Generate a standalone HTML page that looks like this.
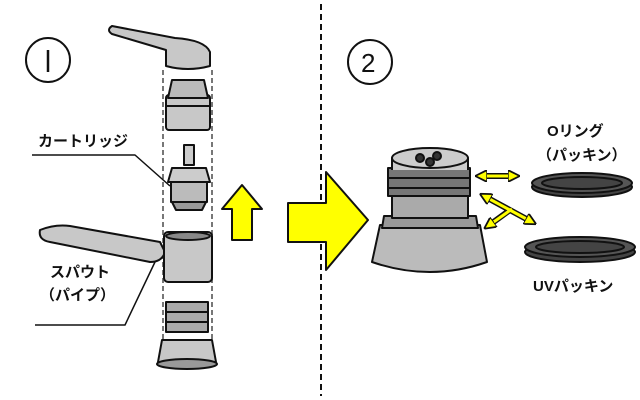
<!DOCTYPE html><html><head><meta charset="utf-8"><style>body{margin:0;background:#fff}svg{display:block}text{font-family:"Liberation Sans","Noto Sans CJK JP",sans-serif;font-weight:bold;fill:#111}</style></head><body>
<svg width="640" height="400" viewBox="0 0 640 400" stroke="#111" stroke-width="2" stroke-linejoin="round">
<defs><marker id="h" viewBox="0 0 10 10" refX="6" refY="5" markerWidth="4" markerHeight="4" orient="auto-start-reverse"><path d="M0,0 L10,5 L0,10Z" fill="#ffff00" stroke="#111" stroke-width="1.5"/></marker></defs>
<line x1="321" y1="4" x2="321" y2="396" stroke-dasharray="6,4"/>
<circle cx="48" cy="60" r="22" fill="#fff"/><line x1="48" y1="50" x2="48" y2="72" stroke-width="2.5"/>
<circle cx="370" cy="62" r="22" fill="#fff"/><text x="361" y="72" font-size="26" style="font-weight:normal" stroke="none">2</text>
<line x1="163" y1="70" x2="163" y2="360" stroke="#777" stroke-dasharray="5,3"/>
<line x1="212" y1="70" x2="212" y2="360" stroke="#777" stroke-dasharray="5,3"/>
<path d="M112,26 L175,38 Q205,40 210,52 L210,66 Q188,72 166,66 L166,50 L112,34 Q106,30 112,26Z" fill="#c8c8c8"/>
<rect x="166" y="95" width="44" height="35" rx="3" fill="#c8c8c8"/>
<path d="M172,80 L204,80 L208,98 L168,98Z" fill="#bbb"/>
<line x1="166" y1="106" x2="210" y2="106"/>
<rect x="184" y="145" width="10" height="20" fill="#ccc"/>
<path d="M172,168 L206,168 L210,182 L168,182Z" fill="#ccc"/>
<rect x="171" y="182" width="36" height="20" fill="#bbb"/>
<path d="M172,202 L206,202 L202,210 L176,210Z" fill="#999"/>
<path d="M40,230 Q38,240 50,242 L150,262 Q162,262 165,252 L160,242 L70,226 Q55,224 40,230Z" fill="#c8c8c8"/>
<rect x="164" y="232" width="48" height="50" rx="4" fill="#c8c8c8"/>
<ellipse cx="188" cy="236" rx="22" ry="4" fill="#888"/>
<rect x="166" y="302" width="42" height="30" fill="#aaa"/>
<line x1="166" y1="312" x2="208" y2="312"/><line x1="166" y1="322" x2="208" y2="322"/>
<path d="M162,340 L212,340 L216,362 L158,362Z" fill="#c8c8c8"/>
<ellipse cx="187" cy="364" rx="30" ry="5" fill="#999"/>
<text x="38" y="146" font-size="15" stroke="none">カートリッジ</text>
<polyline points="32,155 135,155 170,186" fill="none" stroke-width="1.5"/>
<text x="50" y="277" font-size="15" stroke="none">スパウト</text>
<text x="40" y="300" font-size="15" stroke="none">（パイプ）</text>
<polyline points="35,325 125,325 155,262" fill="none" stroke-width="1.5"/>
<path d="M242,185 L262,209 L252,209 L252,240 L232,240 L232,209 L222,209Z" fill="#ffff00"/>
<path d="M288,203 L326,203 L326,172 L368,220 L326,270 L326,242 L288,242Z" fill="#ffff00"/>
<path d="M372,262 L380,225 L480,225 L487,262 Q430,282 372,262Z" fill="#bbb"/>
<path d="M384,216 L476,216 L478,228 L382,228Z" fill="#999"/>
<rect x="392" y="196" width="76" height="22" fill="#aaa"/>
<rect x="388" y="168" width="82" height="28" fill="#777"/>
<line x1="388" y1="178" x2="470" y2="178"/><line x1="388" y1="188" x2="470" y2="188"/>
<rect x="392" y="158" width="76" height="12" fill="#ccc" stroke="none"/>
<line x1="392" y1="158" x2="392" y2="170"/><line x1="468" y1="158" x2="468" y2="170"/>
<ellipse cx="430" cy="158" rx="38" ry="10" fill="#ccc"/>
<circle cx="420" cy="158" r="4" fill="#333"/><circle cx="437" cy="156" r="4" fill="#333"/><circle cx="430" cy="162" r="4" fill="#333"/>
<g fill="none" stroke-linecap="butt">
<line x1="480" y1="176" x2="515" y2="176" stroke="#111" stroke-width="6"/>
<line x1="480" y1="176" x2="515" y2="176" stroke="#ffff00" stroke-width="3" marker-start="url(#h)" marker-end="url(#h)"/>
<line x1="484" y1="196" x2="532" y2="222" stroke="#111" stroke-width="6"/>
<line x1="488" y1="226" x2="510" y2="210" stroke="#111" stroke-width="6"/>
<line x1="484" y1="196" x2="532" y2="222" stroke="#ffff00" stroke-width="3" marker-start="url(#h)" marker-end="url(#h)"/>
<line x1="488" y1="226" x2="512" y2="209" stroke="#ffff00" stroke-width="3" marker-start="url(#h)"/>
</g>
<ellipse cx="582" cy="187" rx="50" ry="10" fill="#444"/>
<ellipse cx="582" cy="183" rx="50" ry="10" fill="#555"/>
<ellipse cx="582" cy="183" rx="40" ry="6" fill="#444"/>
<ellipse cx="580" cy="252" rx="55" ry="10" fill="#444"/>
<ellipse cx="580" cy="247" rx="55" ry="10" fill="#555"/>
<ellipse cx="580" cy="247" rx="44" ry="6" fill="#444"/>
<text x="547" y="136" font-size="15" stroke="none">Oリング</text>
<text x="537" y="160" font-size="15" stroke="none">（パッキン）</text>
<text x="533" y="291" font-size="15" stroke="none">UVパッキン</text>
</svg></body></html>
